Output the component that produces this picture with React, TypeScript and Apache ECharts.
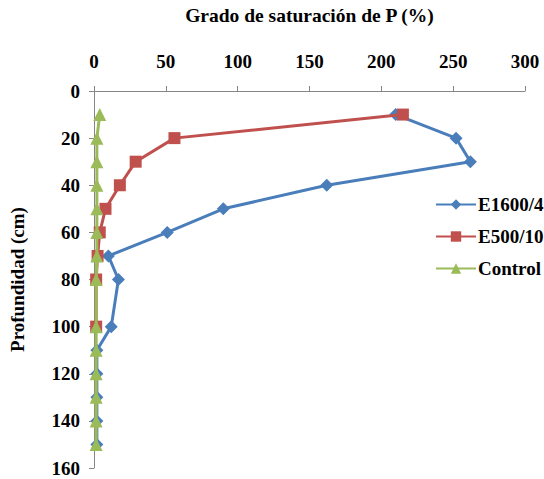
import React, { useEffect, useRef } from "react";
import * as echarts from "echarts";

const depths = [10, 20, 30, 40, 50, 60, 70, 80, 100, 110, 120, 130, 140, 150];
const e1600 = [210, 252, 262, 162, 90, 51, 10, 17, 12, 2, 2, 2, 2, 2];
const e500Depths = [10, 20, 30, 40, 50, 60, 70, 80, 100];
const e500 = [215, 56, 29, 18, 8, 4, 2.5, 1.5, 1.5];
const control = [4, 2, 2, 2, 2, 2, 2, 1.5, 1.5, 1.5, 1.5, 1.5, 1.5, 1.5];
const seriesNames = ["E1600/4", "E500/10", "Control"];
const xTitle = "Grado de saturación de P (%)";
const yTitle = "Profundidad (cm)";

const FONT = "Liberation Serif";

export default function App() {
  const ref = useRef<HTMLDivElement>(null);
  useEffect(() => {
    if (!ref.current) return;
    const chart = echarts.init(ref.current, undefined, { renderer: "svg" });
    const pair = (xs: number[], ds: number[]) => xs.map((v, i) => [v, ds[i]]);
    const colors = ["#4A7EBB", "#C0504D", "#9BBB59"];
    const symbols = ["diamond", "rect", "triangle"];
    const datas = [pair(e1600, depths), pair(e500, e500Depths), pair(control, depths)];
    chart.setOption({
      animation: false,
      backgroundColor: "#ffffff",
      grid: { left: 90, right: 19, top: 84, bottom: 11, containLabel: false },
      xAxis: {
        type: "value",
        position: "top",
        min: 0,
        max: 300,
        interval: 50,
        name: xTitle,
        nameLocation: "middle",
        nameGap: 66,
        nameTextStyle: { fontFamily: FONT, fontWeight: "bold", fontSize: 19.5, color: "#000" },
        axisLine: { show: true, lineStyle: { color: "#868686", width: 1 } },
        axisTick: { show: true, length: 5, lineStyle: { color: "#868686" } },
        axisLabel: { fontFamily: FONT, fontWeight: "bold", fontSize: 19, color: "#000", margin: 20 },
        splitLine: { show: false },
      },
      yAxis: {
        type: "value",
        inverse: true,
        min: 0,
        max: 160,
        interval: 20,
        name: yTitle,
        nameLocation: "middle",
        nameGap: 67,
        nameRotate: 90,
        nameTextStyle: { fontFamily: FONT, fontWeight: "bold", fontSize: 19, color: "#000" },
        axisLine: { show: true, lineStyle: { color: "#868686", width: 1 } },
        axisTick: { show: true, length: 5, lineStyle: { color: "#868686" } },
        axisLabel: { fontFamily: FONT, fontWeight: "bold", fontSize: 19, color: "#000", margin: 14 },
        splitLine: { show: false },
      },
      legend: {
        orient: "vertical",
        left: 430,
        top: 190,
        itemWidth: 40,
        itemHeight: 13,
        itemGap: 13,
        data: seriesNames,
        textStyle: { fontFamily: FONT, fontWeight: "bold", fontSize: 19, color: "#000", padding: [0, 0, 0, -3] },
      },
      series: seriesNames.map((name, i) => ({
        name,
        type: "line",
        data: datas[i],
        symbol: symbols[i],
        symbolSize: i === 1 ? 12 : 13,
        color: colors[i],
        lineStyle: { color: colors[i], width: 3 },
        itemStyle: { color: colors[i] },
        z: 2 + i,
      })),
    });
    return () => chart.dispose();
  }, []);
  return (
    <div
      ref={ref}
      style={{ position: "fixed", left: 0, top: 0, width: 544, height: 479, background: "#fff" }}
    />
  );
}
